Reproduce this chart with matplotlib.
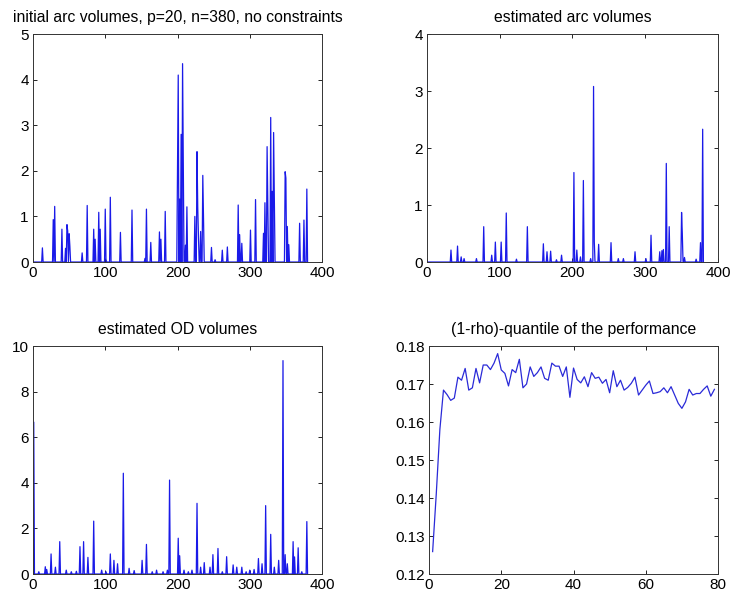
import numpy as np
import matplotlib
matplotlib.use('Agg')
import matplotlib.pyplot as plt

plt.rcParams['font.family'] = ['Liberation Sans', 'DejaVu Sans']

n_arcs = 380

# spikes: index -> value, everything else is zero
init_idx = [13, 28, 30, 40, 45, 47, 48, 50, 51, 68, 75, 84, 86, 91, 93, 100, 101, 107,
            121, 137, 155, 157, 163, 175, 177, 183, 200, 201, 203, 205, 207, 208, 211,
            213, 224, 227, 228, 229, 232, 235, 236, 247, 252, 262, 269, 284, 286, 289,
            301, 308, 319, 321, 324, 325, 329, 331, 333, 334, 349, 350, 352, 354, 369,
            375, 379]
init_val = [0.31, 0.93, 1.22, 0.72, 0.3, 0.82, 0.68, 0.62, 0.35, 0.2, 1.24, 0.72, 0.5,
            1.09, 0.72, 1.16, 0.06, 1.42, 0.65, 1.14, 0.08, 1.16, 0.43, 0.66, 0.5, 1.11,
            2.05, 4.1, 1.38, 2.8, 4.35, 2.17, 0.37, 1.21, 1.0, 2.42, 1.2, 0.55, 0.67,
            1.9, 0.95, 0.32, 0.05, 0.26, 0.33, 1.25, 0.6, 0.41, 0.7, 1.37, 0.63, 1.3,
            2.53, 1.25, 3.17, 1.55, 2.84, 1.4, 1.98, 1.84, 0.78, 0.38, 0.85, 0.92, 1.6]

est_idx = [33, 42, 47, 51, 68, 78, 89, 94, 102, 109, 123, 138, 160, 165, 170, 178, 185,
           202, 206, 211, 215, 225, 229, 230, 236, 253, 263, 270, 286, 301, 308, 320,
           323, 325, 329, 333, 350, 351, 354, 370, 376, 379]
est_val = [0.21, 0.28, 0.09, 0.06, 0.06, 0.62, 0.12, 0.35, 0.35, 0.86, 0.05, 0.62, 0.32,
           0.18, 0.19, 0.04, 0.12, 1.57, 0.21, 0.09, 1.43, 0.06, 3.08, 0.36, 0.31, 0.34,
           0.06, 0.06, 0.18, 0.06, 0.47, 0.18, 0.2, 0.22, 1.73, 0.62, 0.87, 0.5, 0.08,
           0.05, 0.34, 2.33]

od_idx = [1, 8, 17, 19, 25, 31, 37, 46, 53, 60, 65, 70, 76, 84, 95, 101, 107, 112, 117,
          125, 133, 140, 151, 157, 165, 171, 180, 186, 189, 201, 203, 209, 215, 220, 227,
          232, 237, 245, 249, 256, 262, 268, 277, 282, 289, 295, 300, 306, 312, 317, 322,
          329, 334, 340, 346, 349, 352, 360, 362, 367, 372, 379]
od_val = [6.65, 0.1, 0.32, 0.2, 0.88, 0.3, 1.42, 0.17, 0.1, 0.12, 1.2, 1.42, 0.73, 2.32,
          0.17, 0.1, 0.88, 0.6, 0.45, 4.42, 0.25, 0.15, 0.6, 1.3, 0.1, 0.17, 0.1, 0.17,
          4.12, 1.57, 0.8, 0.17, 0.1, 0.17, 3.1, 0.3, 0.5, 0.3, 0.85, 1.12, 0.1, 0.76,
          0.4, 0.3, 0.3, 0.1, 0.17, 0.2, 0.68, 0.45, 3.0, 1.74, 0.3, 0.6, 9.36, 0.85,
          0.45, 1.42, 0.75, 1.15, 0.1, 2.3]

quantile = [0.1259, 0.141, 0.158, 0.1684, 0.1672, 0.1657, 0.1663, 0.1718, 0.171, 0.1741,
            0.1684, 0.169, 0.1741, 0.1703, 0.175, 0.175, 0.1738, 0.1755, 0.178, 0.1737,
            0.1728, 0.1695, 0.1738, 0.173, 0.1765, 0.169, 0.170, 0.1745, 0.172, 0.173,
            0.1745, 0.1715, 0.171, 0.1755, 0.1747, 0.1747, 0.172, 0.1745, 0.1665, 0.1742,
            0.1712, 0.1703, 0.1719, 0.1693, 0.173, 0.1715, 0.1718, 0.1702, 0.1712, 0.1677,
            0.1735, 0.1693, 0.171, 0.1684, 0.1691, 0.1702, 0.1718, 0.1671, 0.1684, 0.1697,
            0.1708, 0.1675, 0.1677, 0.168, 0.169, 0.1677, 0.1693, 0.1671, 0.1649, 0.1636,
            0.1653, 0.1686, 0.1671, 0.1675, 0.1675, 0.1686, 0.1695, 0.1668, 0.1686]


def spikes(idx, val):
    y = np.zeros(n_arcs)
    y[np.array(idx) - 1] = val
    return y


def matlab_axes(ax, title, ylim, yticks, xlim, xticks, yfmt=None):
    ax.set_title(title, fontsize=11.3, pad=8.5)
    ax.set_xlim(xlim)
    ax.set_ylim(ylim)
    ax.set_xticks(xticks)
    ax.set_yticks(yticks)
    if yfmt:
        ax.set_yticklabels([yfmt % t for t in yticks])
    ax.tick_params(direction='in', top=True, right=True, length=3, width=0.6,
                   labelsize=11, pad=3)
    for s in ax.spines.values():
        s.set_linewidth(0.7)
        s.set_color('#333333')


fig = plt.figure(figsize=(7.32, 6.0), dpi=100)
x = np.arange(1, n_arcs + 1)
blue = '#1a1ae8'

ax1 = fig.add_axes([0.0451, 0.5633, 0.3948, 0.38])
ax1.plot(x, spikes(init_idx, init_val), color=blue, lw=0.9)
matlab_axes(ax1, 'initial arc volumes, p=20, n=380, no constraints',
            (0, 5), range(0, 6), (0, 400), range(0, 401, 100))

ax2 = fig.add_axes([0.5833, 0.5633, 0.3975, 0.38])
ax2.plot(x, spikes(est_idx, est_val), color=blue, lw=0.9)
matlab_axes(ax2, 'estimated arc volumes', (0, 4), range(0, 5), (0, 400), range(0, 401, 100))

ax3 = fig.add_axes([0.0451, 0.0433, 0.3948, 0.38])
ax3.plot(x, spikes(od_idx, od_val), color=blue, lw=0.9)
matlab_axes(ax3, 'estimated OD volumes', (0, 10), range(0, 11, 2), (0, 400), range(0, 401, 100))

ax4 = fig.add_axes([0.5861, 0.0433, 0.3948, 0.38])
ax4.plot(np.arange(1, len(quantile) + 1), quantile, color='#2a2ad8', lw=0.9)
matlab_axes(ax4, '(1-rho)-quantile of the performance', (0.12, 0.18),
            [0.12, 0.13, 0.14, 0.15, 0.16, 0.17, 0.18], (0, 80), range(0, 81, 20),
            yfmt='%.2f')

fig.savefig('out.png', dpi=100)
